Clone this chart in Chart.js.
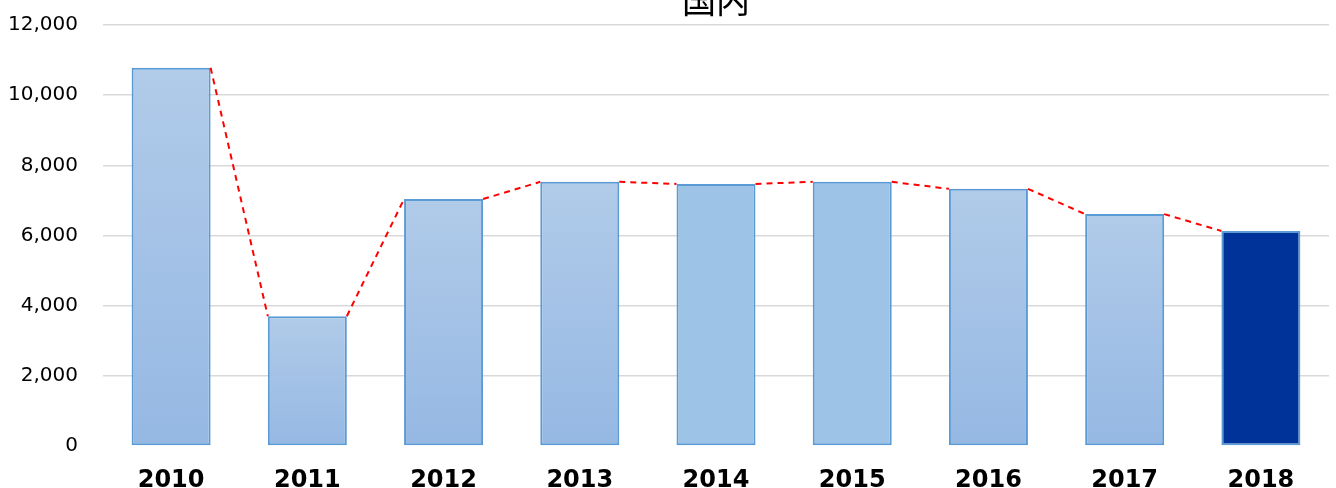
<!DOCTYPE html>
<html>
<head>
<meta charset="utf-8">
<script src="https://cdn.jsdelivr.net/npm/chart.js@4"></script>
<style>
  html, body { margin: 0; padding: 0; background: #fff; overflow: hidden; }
  #wrap { width: 1336px; height: 520px; margin-top: -32px; }
</style>
</head>
<body>
<div id="wrap"><canvas id="chart" width="1336" height="520"></canvas></div>
<script>
const years = ['2010', '2011', '2012', '2013', '2014', '2015', '2016', '2017', '2018'];
const values = [10780, 3700, 7040, 7530, 7470, 7530, 7330, 6610, 6130];
// 'g' = gradient fill, 'f' = flat light blue, 'n' = navy (latest year)
const fillKind = ['g', 'g', 'g', 'g', 'f', 'f', 'g', 'g', 'n'];
const yTicks = [0, 2000, 4000, 6000, 8000, 10000, 12000];

const tickFont = { family: '"DejaVu Sans", Verdana, sans-serif', size: 20 };

// dashed red series lines between neighbouring bar tops
const seriesLines = {
    id: 'seriesLines',
    afterDatasetsDraw(chart) {
        const bars = chart.getDatasetMeta(0).data;
        const ctx = chart.ctx;
        ctx.save();
        ctx.strokeStyle = '#FF0000';
        ctx.lineWidth = 2;
        ctx.setLineDash([6, 5]);
        for (let i = 0; i < bars.length - 1; i++) {
            const a = bars[i], b = bars[i + 1];
            ctx.beginPath();
            ctx.moveTo(a.x + a.width / 2, a.y);
            ctx.lineTo(b.x - b.width / 2, b.y);
            ctx.stroke();
        }
        ctx.restore();
    }
};

const ctx = document.getElementById('chart').getContext('2d');
new Chart(ctx, {
    type: 'bar',
    data: {
        labels: years,
        datasets: [{
            data: values,
            backgroundColor: (c) => {
                const kind = fillKind[c.dataIndex];
                if (kind === 'n') return '#003399';
                if (kind === 'f') return '#9DC3E6';
                const chart = c.chart;
                if (!chart.chartArea) return '#A6C4E8';
                const y = chart.scales.y;
                const top = y.getPixelForValue(values[c.dataIndex]);
                const base = y.getPixelForValue(0);
                const g = chart.ctx.createLinearGradient(0, top, 0, base);
                g.addColorStop(0, '#B1CBE9');
                g.addColorStop(1, '#95B8E3');
                return g;
            },
            borderColor: '#5B9BD5',
            borderWidth: 2,
            borderSkipped: false,
            categoryPercentage: 1,
            barPercentage: 0.58
        }]
    },
    options: {
        responsive: false,
        animation: false,
        layout: { padding: { left: 0, right: 7, top: 0, bottom: 0 } },
        plugins: {
            legend: { display: false },
            tooltip: { enabled: false },
            title: {
                display: true,
                fullSize: false,
                text: '国内',
                color: '#000',
                font: { family: '"Noto Sans CJK JP", sans-serif', size: 34, weight: 'normal' },
                padding: { top: 11.6, bottom: 4.6 }
            }
        },
        scales: {
            x: {
                grid: { display: false, drawTicks: false },
                border: { display: false },
                ticks: {
                    color: '#000',
                    font: { family: '"DejaVu Sans", Verdana, sans-serif', size: 24, weight: 'bold' },
                    padding: 20,
                    maxRotation: 0
                },
                afterFit(s) { s.height = 42; }
            },
            y: {
                min: 0,
                max: 12000,
                afterBuildTicks(s) { s.ticks = yTicks.map(v => ({ value: v })); },
                grid: {
                    color: (c) => c.tick && c.tick.value === 0 ? 'rgba(0,0,0,0)' : '#D9D9D9',
                    lineWidth: 1.5,
                    drawTicks: false
                },
                border: { display: false },
                ticks: {
                    color: '#000',
                    font: tickFont,
                    padding: 25,
                    callback: (v) => v.toLocaleString('en-US')
                },
                afterFit(s) { s.width = 103; }
            }
        }
    },
    plugins: [seriesLines]
});
</script>
</body>
</html>
